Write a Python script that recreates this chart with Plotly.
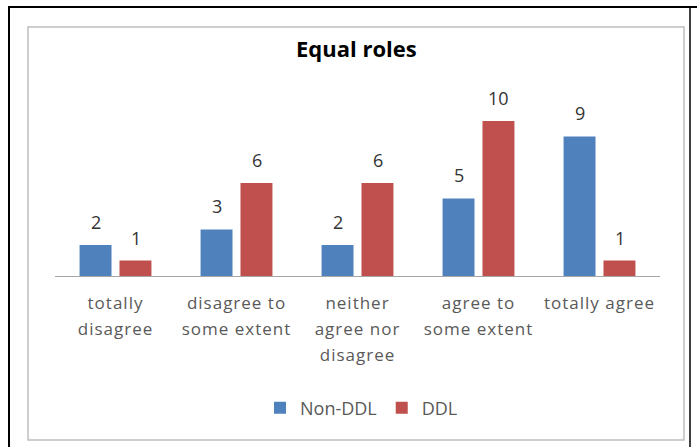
import plotly.graph_objects as go

# Survey answers for the statement "Equal roles"
categories = ["totally disagree", "disagree to some extent", "neither agree nor disagree",
              "agree to some extent", "totally agree"]
tick_lines = [["totally", "disagree"], ["disagree to", "some extent"],
              ["neither", "agree nor", "disagree"], ["agree to", "some extent"],
              ["totally agree"]]
non_ddl = [2, 3, 2, 5, 9]
ddl = [1, 6, 6, 10, 1]

W, H = 697, 447
BLUE, RED = "#4F81BD", "#C0504D"
LABEL_GREY = "#595959"
FONT = "Open Sans"

def px_x(x):
    return x / W

def px_y(y):
    return 1 - y / H

# larger outer font sets the line pitch, inner span sets the glyph size
SPAN = "<span style='font-size:17px;letter-spacing:1px'>{}</span>"
ticktext = ["<br>".join(SPAN.format(t) for t in lines) for lines in tick_lines]

fig = go.Figure()
fig.add_trace(go.Bar(name="Non-DDL", x=categories, y=non_ddl, marker_color=BLUE,
                     marker_line_width=0))
fig.add_trace(go.Bar(name="DDL", x=categories, y=ddl, marker_color=RED,
                     marker_line_width=0))

# value labels above each bar
annotations = []
for vals, shift in ((non_ddl, -20), (ddl, 20)):
    for c, v in zip(categories, vals):
        annotations.append(dict(x=c, y=v, xref="x", yref="y", text=str(v),
                                showarrow=False, xshift=shift, yshift=23,
                                font=dict(family=FONT, size=18, color="#333333")))

annotations.append(dict(x=px_x(356), y=px_y(48), xref="paper", yref="paper",
                        text="<b>Equal roles</b>", showarrow=False,
                        xanchor="center", yanchor="middle",
                        font=dict(family=FONT, size=22, color="#000000")))

shapes = [
    # inner chart frame
    dict(type="rect", xref="paper", yref="paper", x0=px_x(28), x1=px_x(684),
         y0=px_y(440), y1=px_y(27), line=dict(color="#BFBFBF", width=1.5)),
    # outer black frame lines
    dict(type="line", xref="paper", yref="paper", x0=px_x(9), x1=px_x(9),
         y0=px_y(447), y1=px_y(7), line=dict(color="#000000", width=2)),
    dict(type="line", xref="paper", yref="paper", x0=px_x(8), x1=px_x(697),
         y0=px_y(7), y1=px_y(7), line=dict(color="#000000", width=2)),
    dict(type="line", xref="paper", yref="paper", x0=px_x(690), x1=px_x(690),
         y0=px_y(447), y1=px_y(7), line=dict(color="#000000", width=1.5)),
]

fig.update_layout(
    width=W, height=H,
    margin=dict(l=0, r=0, t=0, b=0),
    paper_bgcolor="white", plot_bgcolor="white",
    barmode="group", bargap=0.34, bargroupgap=0.2,
    showlegend=True,
    legend=dict(orientation="h", x=px_x(260), xanchor="left", y=px_y(408), yanchor="middle",
                font=dict(family=FONT, size=18, color=LABEL_GREY),
                itemwidth=30, bgcolor="rgba(0,0,0,0)"),
    annotations=annotations,
    shapes=shapes,
    font=dict(family=FONT),
)
fig.update_xaxes(domain=[px_x(55), px_x(660)], type="category",
                 tickmode="array", tickvals=categories, ticktext=ticktext,
                 tickfont=dict(family=FONT, size=20, color=LABEL_GREY),
                 ticklabelstandoff=8,
                 showline=True, linecolor="#A6A6A6", linewidth=1,
                 ticks="", showgrid=False, automargin=False, tickangle=0)
fig.update_yaxes(domain=[px_y(276), px_y(90)], range=[0, 12], visible=False,
                 showgrid=False, zeroline=False, automargin=False)

fig.write_html("out.html")
